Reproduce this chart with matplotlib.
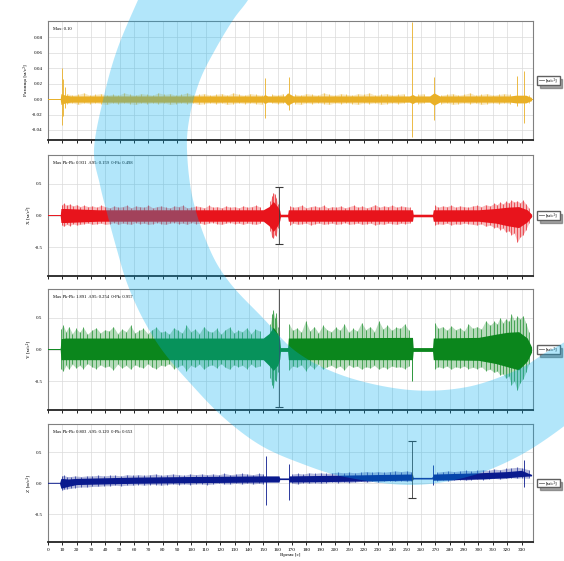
import numpy as np
import matplotlib
matplotlib.use("Agg")
import matplotlib.pyplot as plt
from matplotlib.lines import Line2D
from matplotlib.patches import Polygon

plt.rcParams['font.family'] = ['Liberation Serif', 'DejaVu Serif']

# ---------------- data ----------------
x_ticks = list(range(0, 340, 10))
x_max = 338

# Channel 1: difference signal -- core envelope, noise peaks ("grass") and isolated spikes
d_env_t  = [0, 8.5, 9, 12, 16, 150, 151, 153, 165, 167, 171, 252, 254, 256, 266, 269, 273, 322, 326, 333, 337]
d_env_up = [0, 0, 0.007, 0.005, 0.004, 0.004, 0.006, 0.004, 0.004, 0.008, 0.004, 0.004, 0.006, 0.004, 0.004, 0.008, 0.004, 0.004, 0.005, 0.005, 0.002]
d_env_lo = [0, 0, -0.007, -0.005, -0.004, -0.004, -0.006, -0.004, -0.004, -0.008, -0.004, -0.004, -0.006, -0.004, -0.004, -0.008, -0.004, -0.004, -0.005, -0.005, -0.002]
d_gr_t  = [13, 17, 21, 25, 29, 33, 37, 41, 45, 49, 53, 57, 61, 65, 69, 73, 77, 81, 85, 89, 93, 97, 101, 105, 109, 113,
           117, 121, 125, 129, 133, 137, 141, 145, 149,
           156, 160, 164, 172, 176, 180, 184, 188, 192, 196, 200, 204, 208, 212, 216, 220, 224, 228, 232, 236, 240, 244, 248,
           258, 262, 274, 278, 282, 286, 290, 294, 298, 302, 306, 310, 314, 318, 322, 335]
d_gr_up = [0.007, 0.005, 0.006, 0.008, 0.005, 0.006, 0.007, 0.005, 0.006, 0.005, 0.008, 0.006, 0.005, 0.007, 0.006, 0.005,
           0.008, 0.006, 0.007, 0.005, 0.006, 0.008, 0.005, 0.006, 0.007, 0.005, 0.006, 0.007, 0.005, 0.008, 0.006, 0.005,
           0.007, 0.006, 0.005,
           0.006, 0.005, 0.007, 0.006, 0.005, 0.007, 0.006, 0.005, 0.008, 0.006, 0.005, 0.007, 0.006, 0.005, 0.007, 0.006,
           0.008, 0.005, 0.006, 0.007, 0.005, 0.006, 0.007,
           0.006, 0.007, 0.005, 0.006, 0.007, 0.005, 0.006, 0.008, 0.005, 0.006, 0.007, 0.005, 0.006, 0.007, 0.006, 0.005]
d_gr_lo = [-0.006, -0.005, -0.007, -0.005, -0.006, -0.005, -0.006, -0.007, -0.005, -0.006, -0.005, -0.006, -0.007, -0.005,
           -0.006, -0.005, -0.006, -0.005, -0.007, -0.006, -0.005, -0.006, -0.005, -0.007, -0.006, -0.005, -0.006, -0.005,
           -0.007, -0.006, -0.005, -0.006, -0.005, -0.006, -0.007,
           -0.005, -0.006, -0.005, -0.006, -0.007, -0.005, -0.006, -0.005, -0.006, -0.007, -0.005, -0.006, -0.005, -0.006,
           -0.007, -0.005, -0.006, -0.005, -0.007, -0.006, -0.005, -0.006, -0.005,
           -0.006, -0.005, -0.006, -0.005, -0.007, -0.006, -0.005, -0.006, -0.005, -0.007, -0.006, -0.005, -0.006, -0.005,
           -0.006, -0.005]
d_sp_t  = [9.5, 10.5, 11.5, 151, 168, 254, 269, 326.7, 332]
d_sp_up = [0.040, 0.026, 0.015, 0.027, 0.028, 0.100, 0.028, 0.030, 0.036]
d_sp_lo = [-0.034, -0.022, -0.012, -0.025, -0.014, -0.049, -0.027, -0.009, -0.031]

# Channel 2: X acceleration
x_env_t  = [0, 8.5, 9, 12, 35, 150, 154, 157, 160, 161.5, 162, 167, 167.5, 250, 254, 254.5, 268, 268.5, 300, 312, 320, 328, 334, 337]
x_env_up = [0, 0, 0.11, 0.11, 0.09, 0.09, 0.14, 0.22, 0.14, 0.08, 0.02, 0.02, 0.09, 0.09, 0.09, 0.02, 0.02, 0.09, 0.09, 0.11, 0.13, 0.14, 0.09, 0.02]
x_env_lo = [0, 0, -0.11, -0.11, -0.09, -0.09, -0.16, -0.25, -0.16, -0.08, -0.02, -0.02, -0.09, -0.09, -0.09, -0.02, -0.02, -0.09, -0.09, -0.12, -0.16, -0.19, -0.10, -0.02]
x_gr_t  = [9.5, 11, 13, 15, 17.5, 20, 22.5, 25, 28, 31, 34, 37, 40, 43, 46, 49, 52, 55, 58, 61, 64, 67, 70, 73, 76,
           79, 82, 85, 88, 91, 94, 97, 100, 103, 106, 109, 112, 115, 118, 121, 124, 127, 130, 133, 136, 139, 142, 145, 148,
           155, 156, 157, 158, 159, 160,
           168.5, 171, 174, 177, 180, 183, 186, 189, 192, 195, 198, 201, 204, 207, 210, 213, 216, 219, 222, 225, 228, 231,
           234, 237, 240, 243, 246, 249, 252,
           269.5, 272, 275, 278, 281, 284, 287, 290, 293, 296, 299, 302, 305, 308, 311, 313, 315, 317, 319, 321, 323, 325,
           327, 329, 331, 333, 335]
x_gr_up = [0.17, 0.19, 0.16, 0.18, 0.15, 0.17, 0.14, 0.16, 0.14, 0.15, 0.13, 0.16, 0.14, 0.12, 0.15, 0.13, 0.14, 0.16,
           0.12, 0.15, 0.14, 0.13, 0.16, 0.12, 0.14, 0.15, 0.13, 0.12, 0.15, 0.14, 0.16, 0.12, 0.13, 0.15, 0.14, 0.12,
           0.16, 0.13, 0.14, 0.12, 0.15, 0.13, 0.14, 0.12, 0.15, 0.13, 0.14, 0.16, 0.13,
           0.22, 0.30, 0.36, 0.33, 0.28, 0.18,
           0.15, 0.13, 0.14, 0.16, 0.12, 0.14, 0.15, 0.13, 0.16, 0.12, 0.14, 0.13, 0.15, 0.12, 0.14, 0.16, 0.13, 0.15,
           0.12, 0.14, 0.17, 0.13, 0.15, 0.14, 0.16, 0.13, 0.15, 0.14, 0.13,
           0.16, 0.13, 0.15, 0.14, 0.16, 0.13, 0.15, 0.14, 0.13, 0.15, 0.16, 0.14, 0.17, 0.15, 0.19, 0.17, 0.21, 0.18,
           0.22, 0.20, 0.24, 0.21, 0.23, 0.20, 0.24, 0.18, 0.12]
x_gr_lo = [-0.15, -0.17, -0.14, -0.16, -0.13, -0.15, -0.14, -0.13, -0.12, -0.14, -0.13, -0.12, -0.14, -0.13, -0.11,
           -0.14, -0.12, -0.13, -0.14, -0.11, -0.13, -0.12, -0.14, -0.13, -0.11, -0.13, -0.14, -0.12, -0.11, -0.13,
           -0.12, -0.14, -0.11, -0.13, -0.12, -0.14, -0.12, -0.11, -0.13, -0.14, -0.12, -0.11, -0.13, -0.12, -0.14,
           -0.12, -0.13, -0.14, -0.12,
           -0.25, -0.34, -0.36, -0.30, -0.32, -0.20,
           -0.15, -0.12, -0.14, -0.13, -0.12, -0.15, -0.13, -0.12, -0.14, -0.13, -0.12, -0.14, -0.13, -0.11, -0.14,
           -0.13, -0.12, -0.14, -0.13, -0.12, -0.15, -0.13, -0.14, -0.12, -0.13, -0.14, -0.12, -0.13, -0.12,
           -0.15, -0.13, -0.14, -0.12, -0.15, -0.13, -0.14, -0.12, -0.13, -0.14, -0.15, -0.13, -0.17, -0.15, -0.19,
           -0.18, -0.22, -0.20, -0.26, -0.24, -0.30, -0.28, -0.42, -0.34, -0.30, -0.22, -0.12]
x_sp_t, x_sp_up, x_sp_lo = [], [], []
x_mark = (161, -0.45, 0.45)

# Channel 3: Y acceleration
y_env_t  = [0, 8.5, 9, 12, 150, 154, 157, 160, 161.5, 162, 167, 167.5, 250, 254, 254.5, 268, 268.5, 300, 312, 320, 328, 334, 337]
y_env_up = [0, 0, 0.17, 0.18, 0.18, 0.25, 0.35, 0.25, 0.15, 0.03, 0.03, 0.18, 0.19, 0.19, 0.03, 0.03, 0.18, 0.19, 0.24, 0.27, 0.28, 0.18, 0.04]
y_env_lo = [0, 0, -0.16, -0.16, -0.16, -0.25, -0.33, -0.25, -0.15, -0.03, -0.03, -0.16, -0.16, -0.16, -0.03, -0.03, -0.16, -0.17, -0.22, -0.27, -0.32, -0.18, -0.04]
y_gr_t  = [9, 10.5, 12.5, 14.5, 17, 19.5, 22, 24.5, 27.5, 30.5, 33.5, 36.5, 39.5, 42.5, 45.5, 48.5, 51.5, 54.5, 57.5,
           60.5, 63.5, 66.5, 69.5, 72.5, 75.5, 78.5, 81.5, 84.5, 87.5, 90.5, 93.5, 96.5, 99.5, 102.5, 105.5, 108.5,
           111.5, 114.5, 117.5, 120.5, 123.5, 126.5, 129.5, 132.5, 135.5, 138.5, 141.5, 144.5, 147.5,
           155, 156, 157, 158, 159, 160,
           168, 170.5, 173.5, 176.5, 179.5, 182.5, 185.5, 188.5, 191.5, 194.5, 197.5, 200.5, 203.5, 206.5, 209.5,
           212.5, 215.5, 218.5, 221.5, 224.5, 227.5, 230.5, 233.5, 236.5, 239.5, 242.5, 245.5, 248.5, 251.5,
           269.5, 272, 275, 278, 281, 284, 287, 290, 293, 296, 299, 302, 305, 308, 311, 313, 315, 317, 319, 321, 323,
           325, 327, 329, 331, 333, 335]
y_gr_up = [0.32, 0.38, 0.28, 0.36, 0.25, 0.33, 0.27, 0.35, 0.24, 0.30, 0.34, 0.26, 0.31, 0.29, 0.36, 0.25, 0.32, 0.28,
           0.38, 0.26, 0.30, 0.33, 0.25, 0.31, 0.35, 0.27, 0.29, 0.24, 0.34, 0.30, 0.26, 0.38, 0.28, 0.32, 0.25, 0.36,
           0.29, 0.27, 0.33, 0.24, 0.31, 0.35, 0.26, 0.30, 0.28, 0.34, 0.25, 0.32, 0.29,
           0.40, 0.55, 0.62, 0.50, 0.58, 0.35,
           0.40, 0.30, 0.34, 0.27, 0.45, 0.29, 0.36, 0.26, 0.38, 0.31, 0.28, 0.35, 0.30, 0.40, 0.27, 0.33, 0.29, 0.42,
           0.31, 0.36, 0.28, 0.45, 0.32, 0.38, 0.30, 0.35, 0.33, 0.40, 0.30,
           0.42, 0.33, 0.36, 0.30, 0.37, 0.31, 0.34, 0.29, 0.40, 0.33, 0.36, 0.32, 0.45, 0.38, 0.44, 0.40, 0.50, 0.42,
           0.48, 0.44, 0.55, 0.46, 0.52, 0.48, 0.53, 0.42, 0.28]
y_gr_lo = [-0.30, -0.34, -0.25, -0.31, -0.23, -0.29, -0.25, -0.30, -0.22, -0.27, -0.30, -0.24, -0.28, -0.26, -0.32,
           -0.23, -0.29, -0.25, -0.31, -0.24, -0.27, -0.29, -0.22, -0.28, -0.30, -0.25, -0.26, -0.22, -0.30, -0.27,
           -0.24, -0.33, -0.25, -0.28, -0.23, -0.31, -0.26, -0.24, -0.29, -0.22, -0.28, -0.31, -0.24, -0.27, -0.25,
           -0.30, -0.23, -0.28, -0.26,
           -0.45, -0.55, -0.60, -0.48, -0.50, -0.35,
           -0.32, -0.26, -0.28, -0.24, -0.33, -0.25, -0.30, -0.23, -0.31, -0.27, -0.25, -0.29, -0.26, -0.32, -0.24,
           -0.28, -0.26, -0.31, -0.27, -0.29, -0.25, -0.31, -0.27, -0.30, -0.26, -0.28, -0.27, -0.30, -0.26,
           -0.30, -0.27, -0.29, -0.26, -0.31, -0.27, -0.29, -0.26, -0.30, -0.28, -0.30, -0.27, -0.33, -0.31, -0.36,
           -0.34, -0.40, -0.38, -0.45, -0.42, -0.55, -0.50, -0.64, -0.52, -0.46, -0.36, -0.22]
y_sp_t, y_sp_up, y_sp_lo = [254], [0.08], [-0.50]
y_mark = (161, -0.90, 0.95)

# Channel 4: Z acceleration (slow upward drift)
z_env_t  = [0, 8, 9, 14, 20, 60, 100, 150, 161, 161.5, 167.5, 168, 200, 250, 254, 254.5, 268, 268.5, 300, 320, 330, 337]
z_env_up = [0, 0, 0.08, 0.07, 0.08, 0.10, 0.11, 0.12, 0.12, 0.08, 0.08, 0.12, 0.13, 0.15, 0.15, 0.09, 0.09, 0.15, 0.17, 0.19, 0.21, 0.14]
z_env_lo = [0, 0, -0.08, -0.05, -0.02, 0.00, 0.01, 0.02, 0.02, 0.06, 0.06, 0.02, 0.03, 0.05, 0.05, 0.07, 0.07, 0.05, 0.07, 0.09, 0.11, 0.12]
z_gr_t  = [9.5, 11, 13, 16, 19, 23, 27, 31, 35, 39, 43, 47, 51, 55, 59, 63, 67, 71, 75, 79, 83, 87, 91, 95, 99, 103,
           107, 111, 115, 119, 123, 127, 131, 135, 139, 143, 147, 150,
           170, 174, 178, 182, 186, 190, 194, 198, 202, 206, 210, 214, 218, 222, 226, 230, 234, 238, 242, 246, 250, 253,
           271, 275, 279, 283, 287, 291, 295, 299, 303, 307, 311, 315, 319, 323, 327, 330, 335]
z_gr_up = [0.12, 0.13, 0.11, 0.11, 0.12, 0.11, 0.12, 0.12, 0.13, 0.12, 0.13, 0.13, 0.12, 0.14, 0.13, 0.14, 0.13, 0.14,
           0.15, 0.13, 0.14, 0.15, 0.14, 0.13, 0.15, 0.14, 0.15, 0.14, 0.15, 0.14, 0.16, 0.14, 0.15, 0.16, 0.15, 0.14,
           0.16, 0.15,
           0.15, 0.16, 0.15, 0.17, 0.16, 0.17, 0.16, 0.17, 0.18, 0.17, 0.18, 0.17, 0.18, 0.19, 0.18, 0.19, 0.18, 0.19,
           0.20, 0.19, 0.20, 0.19,
           0.18, 0.19, 0.20, 0.19, 0.20, 0.21, 0.20, 0.21, 0.22, 0.21, 0.23, 0.22, 0.24, 0.25, 0.26, 0.25, 0.22]
z_gr_lo = [-0.11, -0.10, -0.09, -0.08, -0.07, -0.06, -0.06, -0.05, -0.05, -0.04, -0.04, -0.03, -0.04, -0.03, -0.03,
           -0.02, -0.03, -0.02, -0.02, -0.03, -0.02, -0.01, -0.02, -0.01, -0.02, -0.01, -0.01, -0.02, -0.01, 0.00,
           -0.01, -0.01, 0.00, -0.01, 0.00, -0.01, 0.00, -0.01,
           0.00, -0.01, 0.01, 0.00, 0.01, 0.00, 0.01, 0.02, 0.01, 0.02, 0.01, 0.02, 0.03, 0.02, 0.03, 0.02, 0.03, 0.04,
           0.03, 0.04, 0.03, 0.04,
           0.04, 0.05, 0.04, 0.05, 0.06, 0.05, 0.06, 0.07, 0.06, 0.07, 0.08, 0.07, 0.08, 0.09, 0.08, 0.09, 0.08]
z_sp_t  = [152, 168, 268.5, 332]
z_sp_up = [0.45, 0.32, 0.29, 0.37]
z_sp_lo = [-0.35, -0.27, -0.03, -0.06]
z_mark = (254, -0.23, 0.68)

ylabels = ['Разница [м/с²]', 'X [м/с²]', 'Y [м/с²]', 'Z [м/с²]']
stats = ['Max: 0.10',
         'Max Pk-Pk: 0.931  A95: 0.159  0-Pk: 0.498',
         'Max Pk-Pk: 1.891  A95: 0.254  0-Pk: 0.957',
         'Max Pk-Pk: 0.803  A95: 0.120  0-Pk: 0.653']
legend_label = '[м/с²]'
colors = ['#e9b027', '#e8141c', '#0b861c', '#0a1a8e']

# ---------------- figure ----------------
W, H = 564, 561
fig = plt.figure(figsize=(W / 100, H / 100), dpi=100)
fig.patch.set_facecolor('white')

boxes = [(21, 140), (155, 276), (289, 410), (424, 542)]  # panel top/bottom, pixels
left_px, right_px = 48, 533

channels = [
    (d_env_t, d_env_up, d_env_lo, d_gr_t, d_gr_up, d_gr_lo, d_sp_t, d_sp_up, d_sp_lo),
    (x_env_t, x_env_up, x_env_lo, x_gr_t, x_gr_up, x_gr_lo, x_sp_t, x_sp_up, x_sp_lo),
    (y_env_t, y_env_up, y_env_lo, y_gr_t, y_gr_up, y_gr_lo, y_sp_t, y_sp_up, y_sp_lo),
    (z_env_t, z_env_up, z_env_lo, z_gr_t, z_gr_up, z_gr_lo, z_sp_t, z_sp_up, z_sp_lo),
]
ylims = [(-0.053, 0.101), (-0.95, 0.95), (-0.95, 0.95), (-0.95, 0.96)]
yticks = [[-0.04, -0.02, 0.0, 0.02, 0.04, 0.06, 0.08], [-0.5, 0.0, 0.5], [-0.5, 0.0, 0.5], [-0.5, 0.0, 0.5]]
yfmt = ['{:.2f}', '{:.1f}', '{:.1f}', '{:.1f}']


def draw_grass(ax, t, up, lo, c):
    t, up, lo = np.asarray(t, float), np.asarray(up, float), np.asarray(lo, float)
    breaks = np.where(np.diff(t) > 5)[0] + 1
    for seg in np.split(np.arange(len(t)), breaks):
        if len(seg) > 1:
            ax.fill_between(t[seg], lo[seg], up[seg], color=c, alpha=0.3, lw=0, zorder=3)
    ax.vlines(t, lo, up, color=c, lw=0.45, zorder=3)


axes = []
for i, (top, bot) in enumerate(boxes):
    ax = fig.add_axes([left_px / W, 1 - bot / H, (right_px - left_px) / W, (bot - top) / H])
    axes.append(ax)
    et, eu, el, gt, gu, gl, st, su, sl = channels[i]
    c = colors[i]
    draw_grass(ax, gt, gu, gl, c)
    ax.fill_between(et, el, eu, color=c, lw=0, zorder=3)
    mid = (np.array(eu) + np.array(el)) / 2
    ax.plot(et, mid, color=c, lw=0.7, zorder=3)
    if len(st):
        ax.vlines(st, sl, su, color=c, lw=0.6, zorder=3)

    ax.set_xlim(0, x_max)
    ax.set_ylim(*ylims[i])
    ax.set_xticks(x_ticks)
    ax.set_yticks(yticks[i])
    ax.set_yticklabels([yfmt[i].format(v) for v in yticks[i]])
    ax.grid(True, color='#dadada', lw=0.5, zorder=0)
    ax.set_axisbelow(True)
    ax.tick_params(axis='y', length=0, labelsize=3.6, pad=4)
    ax.tick_params(axis='x', length=2, width=0.6, direction='out', labelsize=3.8, pad=2)
    if i < 3:
        ax.tick_params(axis='x', labelbottom=False)
    for s in ['top', 'left', 'right']:
        ax.spines[s].set_color('#808080')
        ax.spines[s].set_linewidth(0.8)
    ax.spines['bottom'].set_color('#222222')
    ax.spines['bottom'].set_linewidth(1.3)
    ax.set_ylabel(ylabels[i], fontsize=3.8, labelpad=3)
    ax.text(0.01, 0.93, stats[i], transform=ax.transAxes, fontsize=3.3, ha='left', va='center', zorder=5)
    ax.legend([Line2D([], [], color='#707070', lw=0.6)], [legend_label], loc='center left',
              bbox_to_anchor=(1.008, 0.5), fontsize=3.6, frameon=True, fancybox=False, shadow=True,
              edgecolor='#606060', handlelength=1.0, handletextpad=0.4, borderpad=0.4, borderaxespad=0)

# min/max markers
for ax, (t, lo, hi), both in [(axes[1], x_mark, True), (axes[2], y_mark, False), (axes[3], z_mark, True)]:
    ax.plot([t, t], [lo, hi], color='#3a3a3a', lw=0.6, zorder=4)
    ax.plot([t], [lo], marker='_', ms=6, mew=0.8, color='#3a3a3a', zorder=4)
    if both:
        ax.plot([t], [hi], marker='_', ms=6, mew=0.8, color='#3a3a3a', zorder=4)

axes[3].set_xticklabels([str(v) for v in x_ticks])
axes[3].set_xlabel('Время [с]', fontsize=3.6, labelpad=1)


# decorative translucent band sweeping across the figure
def catmull(pts, n=14):
    p = np.array(pts, float)
    p = np.vstack([2 * p[0] - p[1], p, 2 * p[-1] - p[-2]])
    out = []
    for k in range(1, len(p) - 2):
        p0, p1, p2, p3 = p[k - 1], p[k], p[k + 1], p[k + 2]
        for s in np.linspace(0, 1, n, endpoint=False):
            out.append(0.5 * ((2 * p1) + (-p0 + p2) * s + (2 * p0 - 5 * p1 + 4 * p2 - p3) * s ** 2
                              + (-p0 + 3 * p1 - 3 * p2 + p3) * s ** 3))
    out.append(p[-2])
    return np.array(out)


outer = [(150, -25), (138, 0), (117, 50), (103, 100), (94, 150), (100, 185), (108, 217), (117, 250), (127, 283),
         (142, 317), (162, 350), (190, 383), (223, 417), (260, 445), (300, 463), (345, 477), (410, 485),
         (467, 477), (517, 457), (563, 427), (600, 395)]
inner = [(262, -25), (248, 0), (233, 20), (215, 50), (200, 80), (190, 115), (187, 150), (193, 200), (210, 250),
         (230, 283), (262, 317), (298, 353), (347, 377), (410, 390), (467, 387), (517, 370), (545, 353),
         (563, 343), (600, 320)]
o = catmull(outer)
ii = catmull(inner)[::-1]
poly = np.vstack([o, ii])
poly_fig = np.column_stack([poly[:, 0] / W, 1 - poly[:, 1] / H])
fig.add_artist(Polygon(poly_fig, closed=True, transform=fig.transFigure, facecolor='#00aeef',
                       alpha=0.3, lw=0, zorder=20))

fig.savefig('out.png', dpi=100)
